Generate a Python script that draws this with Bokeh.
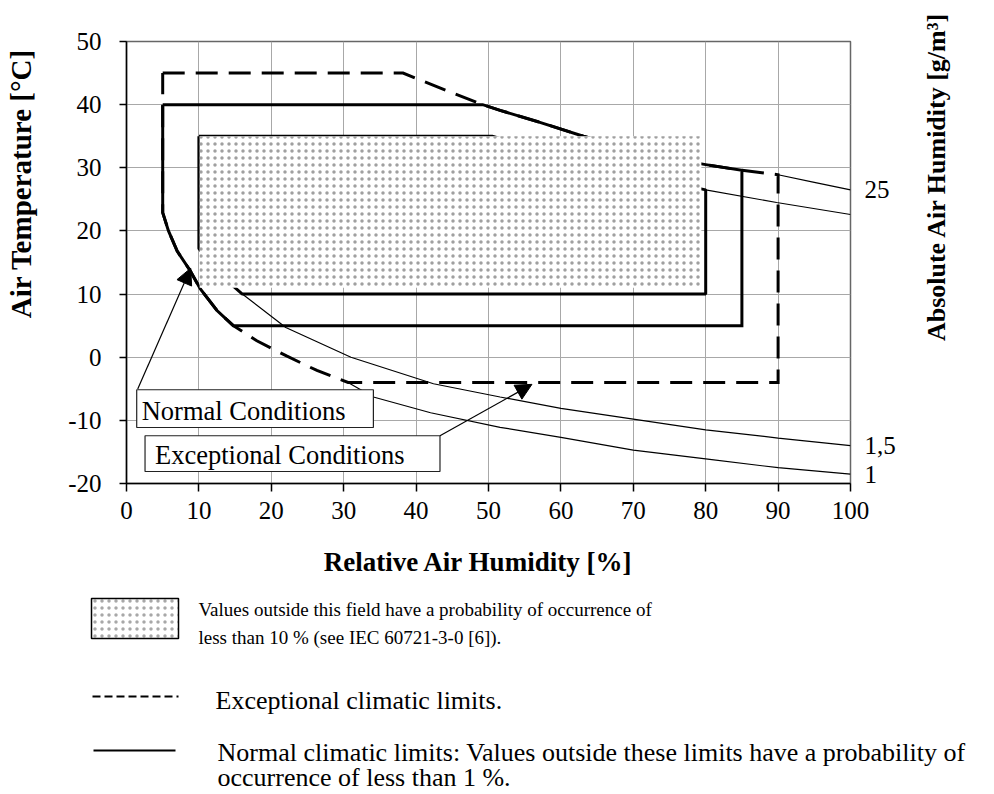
import numpy as np
from bokeh.plotting import figure
from bokeh.models import Range1d, LinearAxis, FixedTicker, Arrow, NormalHead
from bokeh.layouts import column, row
from bokeh.embed import file_html
from bokeh.resources import INLINE
from bokeh.core.properties import value

# ---------------- data ----------------
rh_ticks = [0, 10, 20, 30, 40, 50, 60, 70, 80, 90, 100]
rh_tick_labels = ["0", "10", "20", "30", "40", "50", "60", "70", "80", "90", "100"]
t_ticks = [-20, -10, 0, 10, 20, 30, 40, 50]
t_tick_labels = ["-20", "-10", "0", "10", "20", "30", "40", "50"]

# normal / exceptional climatic limits (RH %, temperature degC)
normal_rh = [5, 85]
normal_t = [5, 40]
exc_rh = [5, 90]
exc_t = [-4, 45]

# absolute humidity isolines (g/m3)
ah25_rh = [38.2, 44.7, 49.2, 51.6, 57.1, 63.1, 70, 75, 80, 85, 90, 95, 100]
ah25_t = [45.0, 42.0, 40.0, 39.1, 37.2, 35.0, 32.8, 31.5, 30.5, 29.6, 28.9, 27.7, 26.5]
ah20_rh = [50.5, 66, 80, 89.8, 100]
ah20_t = [35.0, 30.0, 26.5, 24.5, 22.6]
ah15_rh = [10, 12, 14, 16, 22, 31, 42.4, 51.6, 60, 70, 80, 90, 100]
ah15_t = [17.2, 14.4, 12.0, 10.0, 4.7, 0.0, -4.2, -6.3, -8.1, -9.8, -11.5, -12.8, -14.0]
ah1_rh = [5, 5.8, 7, 8.8, 10.2, 12.5, 14.75, 18, 22.1, 26.3, 30.6, 34.1, 42, 51.6, 60, 70, 80, 90, 100]
ah1_t = [22.9, 20.0, 16.8, 13.7, 10.8, 7.4, 5.0, 2.6, 0.2, -2.1, -4.0, -6.3, -8.8, -11.1,
         -12.7, -14.7, -16.1, -17.5, -18.5]
ah_labels = ["25", "1,5", "1"]

# field of 10 % probability (boundary) and its shaded patch
field_rh = [10, 80]
field_t = [10, 35]
shade_rh = [10.1, 79.4]
shade_t = [11.0, 35.0]

# ---------------- helpers ----------------
def pick(xs, ys, cond):
    return [(x, y) for x, y in zip(xs, ys) if cond(x, y)]

def xy(pts):
    return [p[0] for p in pts], [p[1] for p in pts]

FONT = "Liberation Serif"
W = 994
LW, RW = 50, 90                 # side strips carrying the rotated titles
PW = W - LW - RW                # main chart width
H1 = 541
H2 = 252
BL, BT, FW, FH = 126 - LW, 41, 724, 442
BR = PW - BL - FW
BB = H1 - BT - FH

def blank(width, height, x0, x1):
    f = figure(width=width, height=height, x_range=Range1d(x0, x1), y_range=Range1d(height, 0),
               output_backend="svg", toolbar_location=None, x_axis_type=None, y_axis_type=None,
               min_border=0, outline_line_color=None,
               background_fill_color="white", border_fill_color="white")
    if "frame_align" in f.properties():
        f.frame_align = False
    f.grid.visible = False
    return f

# ---------------- main chart ----------------
p = figure(width=PW, height=H1, x_range=Range1d(0, 100), y_range=Range1d(-20, 50),
           output_backend="svg", toolbar_location=None,
           min_border_left=BL, min_border_right=BR, min_border_top=BT, min_border_bottom=BB,
           background_fill_color="white", border_fill_color="white",
           outline_line_color="#666666", outline_line_width=1.5)
if "frame_align" in p.properties():
    p.frame_align = False

p.xgrid.ticker = FixedTicker(ticks=rh_ticks)
p.ygrid.ticker = FixedTicker(ticks=t_ticks)
p.grid.grid_line_color = "#a8a8a8"
p.grid.grid_line_width = 1

for ax, ticks, labels in ((p.xaxis[0], rh_ticks, rh_tick_labels), (p.yaxis[0], t_ticks, t_tick_labels)):
    ax.ticker = FixedTicker(ticks=ticks)
    ax.major_label_overrides = {t: l for t, l in zip(ticks, labels)}
    ax.minor_tick_line_color = None
    ax.major_tick_in = 0
    ax.axis_line_color = "black"
    ax.axis_line_width = 1.5
    ax.major_tick_line_color = "black"
    ax.major_tick_line_width = 1.5
    ax.major_label_text_font = FONT
    ax.major_label_text_font_size = "25px"
    ax.major_label_text_color = "black"
p.xaxis[0].major_tick_out = 8
p.xaxis[0].major_label_standoff = 10
p.yaxis[0].major_tick_out = 7
p.yaxis[0].major_label_standoff = 18

# right axis: absolute humidity labels at curve ends
ends = [ah25_t[-1], ah15_t[-1], ah1_t[-1]]
rax = LinearAxis(ticker=FixedTicker(ticks=ends),
                 major_label_overrides={t: l for t, l in zip(ends, ah_labels)},
                 axis_line_color=None, major_tick_line_color=None, minor_tick_line_color=None,
                 major_label_standoff=8, major_label_text_font=FONT,
                 major_label_text_font_size="25px", major_label_text_color="black")
p.add_layout(rax, "right")

# inner field boundary (mostly hidden under the shaded patch)
inner = ([(field_rh[0], field_t[1])]
         + pick(ah15_rh, ah15_t, lambda x, y: y >= field_t[0])
         + [(field_rh[1], field_t[0])]
         + list(reversed(pick(ah20_rh, ah20_t, lambda x, y: x <= field_rh[1])))
         + [(field_rh[0], field_t[1])])
ix, iy = xy(inner)
p.line(ix, iy, line_color="black", line_width=3)

# thin isolines
thin = [
    pick(ah25_rh, ah25_t, lambda x, y: x >= exc_rh[1]),
    pick(ah20_rh, ah20_t, lambda x, y: x >= field_rh[1]),
    pick(ah15_rh, ah15_t, lambda x, y: y <= field_t[0]),
    pick(ah1_rh, ah1_t, lambda x, y: y <= exc_t[0]),
]
for seg in thin:
    sx, sy = xy(seg)
    p.line(sx, sy, line_color="black", line_width=1.2)

# exceptional limits (dashed)
exc = ([(exc_rh[0], exc_t[1])]
       + pick(ah25_rh, ah25_t, lambda x, y: x <= exc_rh[1])
       + [(exc_rh[1], exc_t[0])]
       + list(reversed(pick(ah1_rh, ah1_t, lambda x, y: y >= exc_t[0])))
       + [(exc_rh[0], exc_t[1])])
ex, ey = xy(exc)
p.line(ex, ey, line_color="black", line_width=3, line_dash="22 11", line_join="miter")

# normal limits (solid)
nor = ([(normal_rh[0], normal_t[1])]
       + pick(ah25_rh, ah25_t, lambda x, y: y <= normal_t[1] and x <= normal_rh[1])
       + [(normal_rh[1], normal_t[0])]
       + list(reversed(pick(ah1_rh, ah1_t, lambda x, y: y >= normal_t[0])))
       + [(normal_rh[0], normal_t[1])])
nx, ny = xy(nor)
p.line(nx, ny, line_color="black", line_width=3, line_join="miter")

# shaded 10 % field
p.quad(left=[shade_rh[0]], right=[shade_rh[1]], bottom=[shade_t[0]], top=[shade_t[1]],
       fill_color="white", line_color=None,
       hatch_pattern="dot", hatch_scale=7, hatch_weight=1.0, hatch_color="#a0a0a0")

# annotation boxes
box_l = [1.41, 2.56]
box_r = [34.1, 43.3]
box_t = [-5.15, -12.44]
box_b = [-11.13, -18.1]
p.quad(left=box_l, right=box_r, top=box_t, bottom=box_b,
       fill_color="white", line_color="#222222", line_width=1.2)
p.text(x=[2.1, 3.94], y=[-8.5, -15.5], text=["Normal Conditions", "Exceptional Conditions"],
       text_font=value(FONT), text_font_size="26.5px", text_color="black",
       text_baseline="alphabetic", text_align="left")

p.add_layout(Arrow(end=NormalHead(size=16, fill_color="black", line_color="black", line_width=1),
                   x_start=1.55, y_start=-5.05, x_end=8.87, y_end=14.1,
                   line_color="black", line_width=1.2))
p.add_layout(Arrow(end=NormalHead(size=16, fill_color="black", line_color="black", line_width=1),
                   x_start=43.3, y_start=-12.44, x_end=56.0, y_end=-4.3,
                   line_color="black", line_width=1.2))

# ---------------- side strips with rotated axis titles ----------------
lft = blank(LW, H1, 0, LW)
lft.text(x=[20], y=[183], text=["Air Temperature [°C]"], angle=np.pi / 2,
         text_font=value(FONT), text_font_style="bold", text_font_size="29px",
         text_color="black", text_align="center", text_baseline="alphabetic")

rgt = blank(RW, H1, W - RW, W)
rgt.text(x=[936], y=[176], text=["Absolute Air Humidity [g/m³]"], angle=np.pi / 2,
         text_font=value(FONT), text_font_style="bold", text_font_size="26px",
         text_color="black", text_align="center", text_baseline="alphabetic")

# ---------------- x title + legend block ----------------
q = blank(W, H2, 0, W)
q.text(x=[478], y=[20], text=["Relative Air Humidity [%]"],
       text_font=value(FONT), text_font_style="bold", text_font_size="27px",
       text_color="black", text_align="center", text_baseline="alphabetic")

q.quad(left=[91], right=[178], top=[57], bottom=[97], fill_color="white",
       line_color="black", line_width=1.5,
       hatch_pattern="dot", hatch_scale=7, hatch_weight=1.0, hatch_color="#a8a8a8")
q.line([92, 178], [155, 155], line_color="black", line_width=2, line_dash="8 4")
q.line([93, 175], [209, 209], line_color="black", line_width=2)

q.text(x=[198, 198], y=[68, 96],
       text=["Values outside this field have a probability of occurrence of",
             "less than 10 % (see IEC 60721-3-0 [6])."],
       text_font=value(FONT), text_font_size="19px",
       text_color="black", text_baseline="alphabetic", text_align="left")
q.text(x=[215, 217, 217], y=[159, 211, 236],
       text=["Exceptional climatic limits.",
             "Normal climatic limits: Values outside these limits have a probability of",
             "occurrence of less than 1 %."],
       text_font=value(FONT), text_font_size="26px",
       text_color="black", text_baseline="alphabetic", text_align="left")

layout = column(row(lft, p, rgt, spacing=0), q, spacing=0)
open("out.html", "w").write(file_html(layout, INLINE))
